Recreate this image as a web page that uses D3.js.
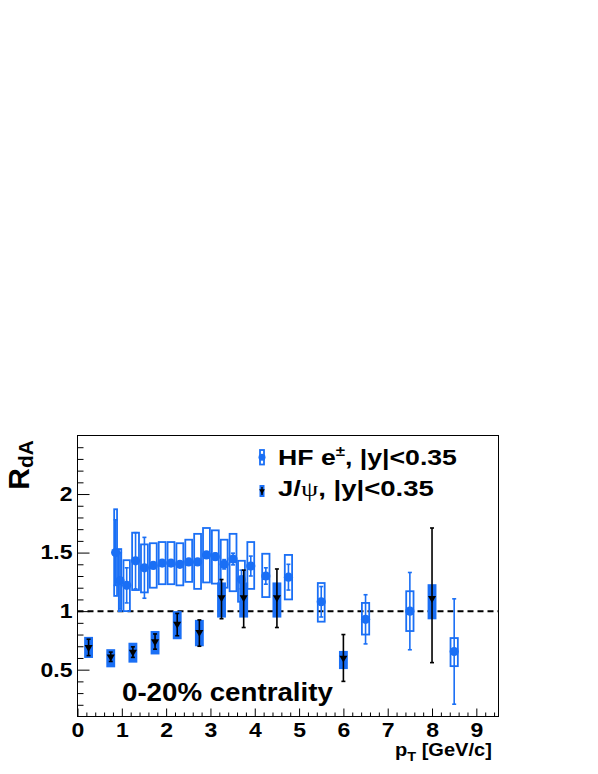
<!DOCTYPE html>
<html><head><meta charset="utf-8">
<script src="https://cdn.jsdelivr.net/npm/d3@7"></script>
<style>
body{margin:0;background:#fff;}
svg text{font-family:"Liberation Sans",Arial,sans-serif;font-weight:bold;fill:#000;}
</style>
</head><body>
<svg id="c" width="598" height="774"></svg>
<script>
// ---- data ----
const hfPt    = [0.86, 0.96, 1.11, 1.31, 1.51, 1.71, 1.91, 2.11, 2.31, 2.51, 2.71, 2.91, 3.11, 3.31, 3.51, 3.70, 3.91, 4.25, 4.76, 5.50, 6.50, 7.50, 8.50];
const hfVal   = [1.50, 1.26, 1.22, 1.43, 1.37, 1.39, 1.41, 1.41, 1.40, 1.42, 1.42, 1.48, 1.465, 1.40, 1.445, 1.27, 1.385, 1.30, 1.29, 1.08, 0.93, 1.00, 0.655];
const hfStat  = [0.28, 0.24, 0.15, 0.24, 0.26, 0.02, 0.02, 0.02, 0.02, 0.02, 0.02, 0.025, 0.03, 0.04, 0.05, 0.08, 0.085, 0.07, 0.11, 0.13, 0.21, 0.33, 0.45];
const hfSysLo = [1.13, 1.00, 1.00, 1.18, 1.16, 1.20, 1.23, 1.23, 1.22, 1.25, 1.19, 1.245, 1.235, 1.20, 1.17, 1.08, 1.19, 1.12, 1.10, 0.91, 0.80, 0.83, 0.53];
const hfSysHi = [1.87, 1.53, 1.435, 1.67, 1.57, 1.58, 1.59, 1.59, 1.58, 1.61, 1.66, 1.71, 1.69, 1.61, 1.66, 1.43, 1.59, 1.49, 1.48, 1.24, 1.07, 1.17, 0.77];
const hfBinW  = [0.11, 0.10, 0.19, 0.2, 0.2, 0.2, 0.2, 0.2, 0.2, 0.2, 0.2, 0.2, 0.2, 0.2, 0.2, 0.2, 0.2, 0.21, 0.21, 0.2, 0.21, 0.21, 0.21];

const jpsiPt     = [0.25, 0.75, 1.25, 1.75, 2.25, 2.75, 3.25, 3.75, 4.50, 6.00, 8.00];
const jpsiVal    = [0.69, 0.61, 0.65, 0.74, 0.89, 0.82, 1.115, 1.115, 1.115, 0.60, 1.11];
const jpsiStatLo = [0.07, 0.04, 0.045, 0.065, 0.10, 0.12, 0.18, 0.255, 0.255, 0.20, 0.55];
const jpsiStatHi = [0.07, 0.04, 0.045, 0.065, 0.09, 0.105, 0.155, 0.235, 0.245, 0.20, 0.60];
const jpsiSysLo  = [0.60, 0.52, 0.56, 0.63, 0.76, 0.70, 0.945, 0.945, 0.945, 0.505, 0.93];
const jpsiSysHi  = [0.78, 0.675, 0.73, 0.83, 1.00, 0.925, 1.245, 1.245, 1.245, 0.66, 1.23];
const jpsiBinW   = [0.2, 0.2, 0.2, 0.2, 0.2, 0.2, 0.2, 0.2, 0.2, 0.2, 0.2];

const xTickVals   = [0,1,2,3,4,5,6,7,8,9];
const xTickLabels = ["0","1","2","3","4","5","6","7","8","9"];
const yTickVals   = [0.5,1,1.5,2];
const yTickLabels = ["0.5","1","1.5","2"];
const centralityLabel = "0-20% centrality";

// ---- chart ----
const BLUE = "#1a6ff5";
const svg = d3.select("#c");
const L=77.5, R=498.5, T=435.5, B=716.5;
const x = d3.scaleLinear().domain([0,9.5]).range([L,R]);
const y = d3.scaleLinear().domain([0.1,2.5]).range([B,T]);
const SX = 1.15;

// stretch a text horizontally around x0 to reach a target width
function fitWidth(sel, x0, target){
  const w = sel.node().getBBox().width;
  const s = target / w;
  sel.attr("transform",`translate(${x0},0) scale(${s},1) translate(${-x0},0)`);
}

// axes
const xMinor = d3.range(0.2, 9.5, 0.2).filter(v => Math.abs(v-Math.round(v))>1e-6);
svg.append("g").attr("transform",`translate(0,${B})`)
  .call(d3.axisBottom(x).tickValues(xMinor).tickSize(-4).tickFormat(""))
  .call(g=>g.select(".domain").remove());
svg.append("g").attr("transform",`translate(0,${B})`)
  .call(d3.axisBottom(x).tickValues(xTickVals).tickSize(-8).tickPadding(6).tickFormat((d,i)=>xTickLabels[i]))
  .call(g=>g.select(".domain").remove())
  .call(g=>g.selectAll("text").style("font-size","20px").attr("fill","#000").attr("transform",`scale(${SX},1)`));
const yMinor = d3.range(0.2, 2.45, 0.1).filter(v => Math.abs(v*2-Math.round(v*2))>1e-6);
svg.append("g").attr("transform",`translate(${L},0)`)
  .call(d3.axisLeft(y).tickValues(yMinor).tickSize(-6).tickFormat(""))
  .call(g=>g.select(".domain").remove());
svg.append("g").attr("transform",`translate(${L},0)`)
  .call(d3.axisLeft(y).tickValues(yTickVals).tickSize(-12).tickPadding(5).tickFormat((d,i)=>yTickLabels[i]))
  .call(g=>g.select(".domain").remove())
  .call(g=>g.selectAll("text").style("font-size","20px").attr("fill","#000")
     .attr("transform",`translate(-5,0) scale(${SX},1) translate(5,0)`));
svg.selectAll(".tick line").attr("stroke","#000").attr("stroke-width",1);

// frame
svg.append("rect").attr("x",L).attr("y",T).attr("width",R-L).attr("height",B-T)
  .attr("fill","none").attr("stroke","#000").attr("stroke-width",1);

// dashed line at 1
svg.append("line").attr("x1",x(0)).attr("x2",x(9.5)).attr("y1",y(1)).attr("y2",y(1))
  .attr("stroke","#000").attr("stroke-width",2).attr("stroke-dasharray","6,4");

const hf = hfPt.map((p,i)=>({p, v:hfVal[i], s:hfStat[i], lo:hfSysLo[i], hi:hfSysHi[i], w:hfBinW[i]}));
const jp = jpsiPt.map((p,i)=>({p, v:jpsiVal[i], sl:jpsiStatLo[i], sh:jpsiStatHi[i], lo:jpsiSysLo[i], hi:jpsiSysHi[i], w:jpsiBinW[i]}));

// J/psi sys boxes (filled)
svg.append("g").selectAll("rect").data(jp).join("rect")
  .attr("x",d=>x(d.p-d.w/2)).attr("width",d=>x(d.p+d.w/2)-x(d.p-d.w/2))
  .attr("y",d=>y(d.hi)).attr("height",d=>y(d.lo)-y(d.hi))
  .attr("fill",BLUE);

// HF sys boxes (open)
svg.append("g").selectAll("rect").data(hf).join("rect")
  .attr("x",d=>x(d.p-d.w/2)+1).attr("width",d=>x(d.p+d.w/2)-x(d.p-d.w/2)-2)
  .attr("y",d=>y(d.hi)).attr("height",d=>y(d.lo)-y(d.hi))
  .attr("fill","none").attr("stroke",BLUE).attr("stroke-width",1.8);

// HF stat error bars
const hfErr = svg.append("g").attr("stroke",BLUE).attr("stroke-width",1.6);
hf.forEach(d=>{
  hfErr.append("line").attr("x1",x(d.p)).attr("x2",x(d.p)).attr("y1",y(d.v+d.s)).attr("y2",y(d.v-d.s));
  [d.v+d.s,d.v-d.s].forEach(e=>hfErr.append("line").attr("x1",x(d.p)-2).attr("x2",x(d.p)+2).attr("y1",y(e)).attr("y2",y(e)));
});
svg.append("g").selectAll("circle").data(hf).join("circle")
  .attr("cx",d=>x(d.p)).attr("cy",d=>y(d.v)).attr("r",4.6).attr("fill",BLUE);

// J/psi stat error bars
const jpErr = svg.append("g").attr("stroke","#000").attr("stroke-width",1.6);
jp.forEach(d=>{
  jpErr.append("line").attr("x1",x(d.p)).attr("x2",x(d.p)).attr("y1",y(d.v+d.sh)).attr("y2",y(d.v-d.sl));
  [d.v+d.sh,d.v-d.sl].forEach(e=>jpErr.append("line").attr("x1",x(d.p)-2).attr("x2",x(d.p)+2).attr("y1",y(e)).attr("y2",y(e)));
});
const tri = d3.symbol().type(d3.symbolTriangle).size(28);
svg.append("g").selectAll("path").data(jp).join("path")
  .attr("d",tri).attr("transform",d=>`translate(${x(d.p)},${y(d.v)}) rotate(180)`).attr("fill","#000");

// legend
const lg = svg.append("g");
lg.append("rect").attr("x",260).attr("y",450).attr("width",4).attr("height",14.5)
  .attr("fill","none").attr("stroke",BLUE).attr("stroke-width",1.8);
lg.append("circle").attr("cx",262).attr("cy",457.3).attr("r",3.5).attr("fill",BLUE);
const t1 = lg.append("text").attr("x",278).attr("y",465).style("font-size","22px");
t1.append("tspan").text("HF e");
t1.append("tspan").attr("dy",-9).style("font-size","14px").text("\u00B1");
t1.append("tspan").attr("dy",9).text(", |y|<0.35");
fitWidth(t1, 278, 179);
lg.append("rect").attr("x",259.5).attr("y",485).attr("width",5).attr("height",12).attr("fill",BLUE);
lg.append("line").attr("x1",262).attr("x2",262).attr("y1",487).attr("y2",495).attr("stroke","#000").attr("stroke-width",1.4);
lg.append("path").attr("d",d3.symbol().type(d3.symbolTriangle).size(14)).attr("transform","translate(262,491) rotate(180)").attr("fill","#000");
const t2 = lg.append("text").attr("x",278).attr("y",496).style("font-size","22px");
t2.append("tspan").text("J/");
t2.append("tspan").style("font-family","'Liberation Serif',serif").style("font-weight","normal").text("\u03C8");
t2.append("tspan").text(", |y|<0.35");
fitWidth(t2, 278, 156);

// centrality label
const ct = svg.append("text").attr("x",122).attr("y",701).style("font-size","25px").text(centralityLabel);
fitWidth(ct, 122, 211);

// axis titles
const yt = svg.append("text").attr("transform","translate(29,440) rotate(-90)").attr("text-anchor","end");
yt.append("tspan").style("font-size","30px").text("R");
yt.append("tspan").attr("dy",4).style("font-size","21px").text("dA");

const xt = svg.append("text").attr("x",395).attr("y",756).style("font-size","18px");
xt.append("tspan").text("p");
xt.append("tspan").attr("dy",5).style("font-size","13px").text("T");
xt.append("tspan").attr("dy",-5).text(" [GeV/c]");
fitWidth(xt, 395, 97);
</script>
</body></html>
